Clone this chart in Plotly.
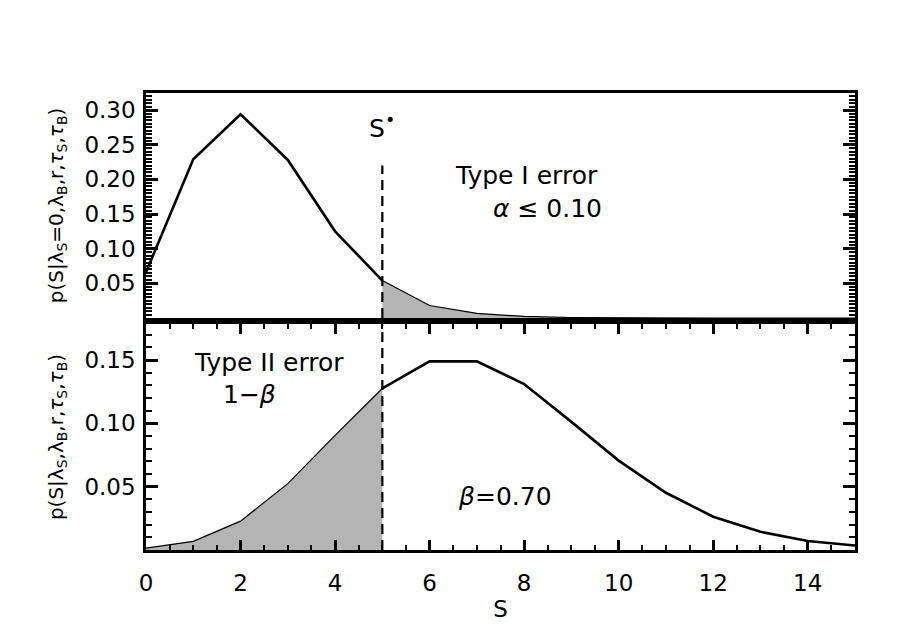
import plotly.graph_objects as go

# ---- data ----
S = list(range(16))
p_null = [0.066, 0.229, 0.294, 0.228, 0.125, 0.054, 0.018, 0.0066, 0.0022, 0.0007,
          0.0002, 0.0001, 0.0, 0.0, 0.0, 0.0]
p_sig = [0.0015, 0.0068, 0.0228, 0.0524, 0.0905, 0.1276, 0.149, 0.149, 0.1311, 0.1012,
         0.0706, 0.0452, 0.0263, 0.0144, 0.0071, 0.0036]
S_star = 5
top_ticks = [0.05, 0.10, 0.15, 0.20, 0.25, 0.30]
bot_ticks = [0.05, 0.10, 0.15]
x_ticks = [0, 2, 4, 6, 8, 10, 12, 14]

FONT = "DejaVu Sans"
GRAY = "#b4b4b4"
k = S.index(S_star)

fig = go.Figure()

# top panel
fig.add_trace(go.Scatter(x=S[k:], y=p_null[k:], mode="lines", fill="tozeroy",
                         fillcolor=GRAY, line=dict(color="black", width=1.2),
                         xaxis="x", yaxis="y", showlegend=False))
fig.add_trace(go.Scatter(x=S[:k + 1], y=p_null[:k + 1], mode="lines",
                         line=dict(color="black", width=2.6),
                         xaxis="x", yaxis="y", showlegend=False))
# bottom panel
fig.add_trace(go.Scatter(x=S[:k + 1], y=p_sig[:k + 1], mode="lines", fill="tozeroy",
                         fillcolor=GRAY, line=dict(color="black", width=1.2),
                         xaxis="x2", yaxis="y2", showlegend=False))
fig.add_trace(go.Scatter(x=S[k:], y=p_sig[k:], mode="lines",
                         line=dict(color="black", width=2.6),
                         xaxis="x2", yaxis="y2", showlegend=False))

# dashed threshold lines
fig.add_shape(type="line", xref="x", yref="y", x0=S_star, x1=S_star, y0=0, y1=0.22,
              line=dict(color="black", width=2.2, dash="10px,6px"))
fig.add_shape(type="line", xref="x2", yref="y2", x0=S_star, x1=S_star, y0=0, y1=0.178,
              line=dict(color="black", width=2.2, dash="10px,6px"))

tickfont = dict(family=FONT, size=23, color="black")
titlefont = dict(family=FONT, size=20, color="black")
common_y = dict(showgrid=False, zeroline=False, showline=True, linecolor="black",
                linewidth=2.5, mirror="ticks", ticks="inside", tickcolor="black",
                tickwidth=2.5, tickfont=tickfont, tickformat=".2f",
                ticklabelstandoff=3)

fig.update_layout(
    width=900, height=643,
    margin=dict(l=138, r=53, t=85, b=101),
    paper_bgcolor="white", plot_bgcolor="white",
    font=dict(family=FONT, color="black"),
    xaxis=dict(domain=[0, 1], range=[0, 15], anchor="y", showgrid=False, zeroline=False,
               showline=True, linecolor="black", linewidth=2.5, mirror=True,
               showticklabels=False, ticks="", matches="x2"),
    yaxis=dict(domain=[0.5077, 1], range=[0, 0.3246], tickvals=top_ticks, ticklen=12,
               minor=dict(dtick=0.005, tick0=0, ticks="inside", ticklen=6,
                          tickcolor="black", tickwidth=1.8),
               title=dict(text="p(S|λ<sub>S</sub>=0,λ<sub>B</sub>,r,<i>τ</i><sub>S</sub>,<i>τ</i><sub>B</sub>)",
                          font=titlefont, standoff=16),
               **common_y),
    xaxis2=dict(domain=[0, 1], range=[0, 15], anchor="y2", showgrid=False, zeroline=False,
                showline=True, linecolor="black", linewidth=2.5, mirror="ticks",
                ticks="inside", tickcolor="black", tickwidth=2.5, ticklen=10,
                tickvals=x_ticks, tickfont=tickfont, ticklabelstandoff=11,
                minor=dict(dtick=0.5, tick0=0, ticks="inside", ticklen=5,
                           tickcolor="black", tickwidth=1.8),
                title=dict(text="S", font=dict(family=FONT, size=23), standoff=6)),
    yaxis2=dict(domain=[0, 0.4945], range=[0, 0.1785], tickvals=bot_ticks, ticklen=12,
                minor=dict(dtick=0.01, tick0=0, ticks="inside", ticklen=6,
                           tickcolor="black", tickwidth=1.8),
                title=dict(text="p(S|λ<sub>S</sub>,λ<sub>B</sub>,r,<i>τ</i><sub>S</sub>,<i>τ</i><sub>B</sub>)",
                           font=titlefont, standoff=16),
                **common_y),
)

ann = dict(showarrow=False, font=dict(family=FONT, size=25, color="black"))
fig.add_annotation(x=S_star, y=0.276, xref="x", yref="y", text="S<sup>•</sup>", **ann)
fig.add_annotation(x=8.05, y=0.206, xref="x", yref="y", text="Type I error", **ann)
fig.add_annotation(x=8.5, y=0.158, xref="x", yref="y", text="<i>α</i> ≤ 0.10", **ann)
fig.add_annotation(x=2.6, y=0.148, xref="x2", yref="y2", text="Type II error", **ann)
fig.add_annotation(x=2.2, y=0.123, xref="x2", yref="y2", text="1−<i>β</i>", **ann)
fig.add_annotation(x=7.6, y=0.042, xref="x2", yref="y2", text="<i>β</i>=0.70", **ann)

fig.write_html("out.html")
